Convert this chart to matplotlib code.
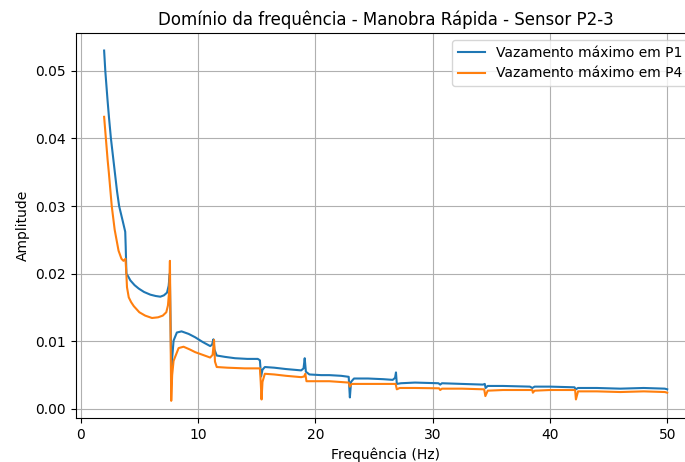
import matplotlib
matplotlib.use("Agg")
import matplotlib.pyplot as plt

# Vazamento máximo em P1
freq_p1 = [2.0, 2.1, 2.29, 2.42, 2.58, 2.94, 3.1, 3.28, 3.57, 3.8, 3.84, 3.9,
           4.05, 4.24, 4.6, 4.95, 5.4, 5.94, 6.4, 6.79, 7.1, 7.36, 7.5, 7.6, 7.68,
           7.74, 7.8, 7.92, 8.2, 8.6, 9.2, 9.76, 10.4, 11.04, 11.2, 11.32, 11.4,
           11.6, 12.3, 13.16, 14.2, 15.1, 15.28, 15.38, 15.5, 15.7, 16.5, 17.5,
           18.8, 19.0, 19.1, 19.2, 19.5, 20.5, 21.2, 22.2, 22.85, 22.95, 23.05,
           23.3, 24.5, 25.8, 26.6, 26.8, 26.88, 26.95, 27.3, 28.5, 30.5, 30.65,
           30.8, 32.5, 34.3, 34.45, 34.52, 34.7, 36.0, 38.3, 38.5, 38.7, 40.0,
           42.1, 42.2, 42.4, 44.0, 46.0, 48.0, 49.8, 50.0]
amp_p1 = [0.0530, 0.0500, 0.0457, 0.0430, 0.0400, 0.0346, 0.0322, 0.0300, 0.0279,
          0.0262, 0.0240, 0.0200, 0.0196, 0.0190, 0.0183, 0.0178, 0.0173,
          0.0169, 0.0167, 0.0166, 0.0168, 0.0172, 0.0182, 0.0200, 0.0110, 0.0042,
          0.0075, 0.0101, 0.0113, 0.01147, 0.0111, 0.0106, 0.0099, 0.0093, 0.0095,
          0.0103, 0.0088, 0.0079, 0.0077, 0.0075, 0.0074, 0.0074, 0.0072, 0.0048,
          0.0058, 0.0062, 0.0061, 0.0059, 0.0057, 0.0060, 0.0075, 0.0055, 0.0051,
          0.0050, 0.0050, 0.0049, 0.00475, 0.0017, 0.0040, 0.0045, 0.0045, 0.0044,
          0.0043, 0.0046, 0.0054, 0.0037, 0.0038, 0.0039, 0.0038, 0.0036, 0.0038,
          0.0037, 0.0036, 0.0037, 0.0031, 0.0034, 0.0034, 0.0033, 0.0031, 0.0033,
          0.0033, 0.0032, 0.0029, 0.0031, 0.0031, 0.0030, 0.0031, 0.0030, 0.0029]

# Vazamento máximo em P4
freq_p4 = [2.0, 2.15, 2.3, 2.4, 2.65, 2.9, 3.23, 3.48, 3.65, 3.82, 3.88, 3.95,
           4.1, 4.3, 4.53, 5.0, 5.5, 6.08, 6.6, 7.0, 7.3, 7.44, 7.55, 7.61, 7.66,
           7.72, 7.8, 7.92, 8.35, 8.77, 9.3, 9.76, 10.4, 11.04, 11.25, 11.37, 11.45,
           11.6, 12.5, 14.0, 15.28, 15.35, 15.42, 15.5, 15.7, 16.5, 17.5, 18.8,
           19.05, 19.15, 19.25, 19.6, 21.2, 22.85, 22.95, 23.1, 24.5, 26.7, 26.85,
           26.95, 27.2, 28.5, 30.55, 30.65, 30.8, 32.5, 34.4, 34.5, 34.7, 36.0,
           38.5, 38.55, 38.7, 40.0, 42.15, 42.22, 42.4, 44.0, 46.0, 48.0, 49.8, 50.0]
amp_p4 = [0.0432, 0.0400, 0.0368, 0.0350, 0.0300, 0.0265, 0.0234, 0.0222,
          0.0219, 0.0222, 0.0205, 0.0180, 0.0165, 0.0158, 0.0152, 0.0143, 0.0138,
          0.01345, 0.01355, 0.0138, 0.0143, 0.0153, 0.0175, 0.0219, 0.0120, 0.0012,
          0.0050, 0.0071, 0.0090, 0.0092, 0.0088, 0.0084, 0.0080, 0.0076, 0.0080,
          0.0102, 0.0070, 0.0062, 0.0061, 0.0060, 0.0060, 0.0040, 0.0014, 0.0040,
          0.0052, 0.0051, 0.0049, 0.0047, 0.0048, 0.0052, 0.0041, 0.0041, 0.0041,
          0.0039, 0.0033, 0.0037, 0.0037, 0.0037, 0.0037, 0.0029, 0.0031, 0.0031,
          0.00305, 0.0028, 0.0030, 0.0030, 0.0029, 0.0019, 0.0027, 0.0028, 0.0028,
          0.0024, 0.0027, 0.0028, 0.0028, 0.0014, 0.0026, 0.0026, 0.0025, 0.0026,
          0.0025, 0.0024]

fig = plt.figure(figsize=(6.85, 4.62), dpi=100)
ax = fig.add_axes([0.1109, 0.0945, 0.9042, 0.834])

ax.plot(freq_p1, amp_p1, label="Vazamento máximo em P1")
ax.plot(freq_p4, amp_p4, label="Vazamento máximo em P4")

ax.set_title("Domínio da frequência - Manobra Rápida - Sensor P2-3")
ax.set_xlabel("Frequência (Hz)")
ax.set_ylabel("Amplitude")
ax.grid(True)
ax.legend(loc="upper right")

fig.savefig("out.png", dpi=100)
